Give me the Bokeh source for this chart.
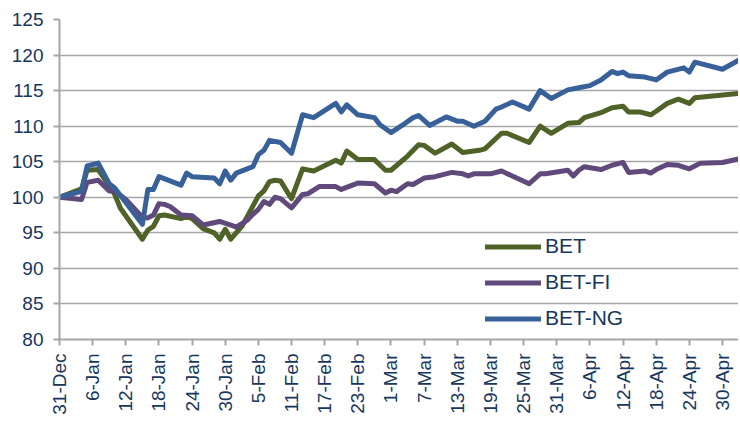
import math
import pandas as pd
from bokeh.plotting import figure
from bokeh.models import FixedTicker, Legend, LegendItem, Range1d
from bokeh.embed import file_html
from bokeh.resources import INLINE

START = pd.Timestamp("2014-12-31")

# Days counted from 31-Dec, and index values (31-Dec = 100)
bet_days = [0, 4, 5, 7, 9, 10, 11, 15, 16, 17, 18, 19, 22, 23, 24, 26, 28, 29, 30, 31,
            33, 34, 36, 37, 38, 39, 40, 42, 44, 46, 50, 51, 52, 54, 57, 59, 60, 63, 65, 66,
            68, 71, 73, 76, 77, 80, 81, 85, 87, 89, 92, 94, 95, 98, 100, 102, 103, 105, 107,
            108, 110, 112, 114, 115, 123]
bet_vals = [100, 101.2, 103.8, 103.9, 101.6, 100.4, 98.5, 94.1, 95.4, 95.9, 97.4, 97.5, 97.0,
            97.3, 97.0, 95.6, 95.0, 94.1, 95.5, 94.1, 95.9, 97.3, 100.2, 100.9, 102.2, 102.4,
            102.3, 99.8, 104.0, 103.7, 105.2, 104.8, 106.5, 105.3, 105.3, 103.8, 103.8, 105.8,
            107.4, 107.3, 106.2, 107.5, 106.3, 106.6, 106.8, 109.0, 109.0, 107.7, 110.0, 109.0,
            110.4, 110.5, 111.2, 111.9, 112.6, 112.8, 112.0, 112.0, 111.6, 112.1, 113.2, 113.8,
            113.2, 114.0, 114.6]

betfi_days = [0, 4, 5, 7, 9, 10, 12, 15, 16, 17, 18, 19, 20, 22, 24, 26, 29, 31, 32, 34,
              35, 36, 37, 38, 39, 40, 42, 44, 45, 47, 50, 51, 54, 57, 59, 60, 61, 63, 64, 66,
              68, 71, 73, 74, 75, 78, 80, 85, 87, 88, 92, 93, 94, 95, 98, 100, 102, 103, 106,
              107, 108, 110, 112, 114, 116, 120, 123]
betfi_vals = [100, 99.7, 102.1, 102.4, 100.9, 100.9, 99.7, 97.2, 97.1, 97.5, 99.1, 99.0, 98.7,
              97.5, 97.4, 96.1, 96.6, 96.1, 95.8, 96.8, 97.6, 98.3, 99.4, 99.0, 100.0, 99.8,
              98.5, 100.4, 100.5, 101.5, 101.5, 101.1, 102.0, 101.9, 100.6, 101.0, 100.8, 101.9,
              101.8, 102.7, 102.9, 103.5, 103.3, 103.0, 103.3, 103.3, 103.7, 101.9, 103.3, 103.3,
              103.8, 103.0, 103.8, 104.3, 103.9, 104.5, 104.9, 103.5, 103.7, 103.4, 103.9, 104.6,
              104.5, 104.0, 104.8, 104.9, 105.4]

betng_days = [0, 4, 5, 7, 9, 10, 15, 16, 17, 18, 20, 22, 23, 24, 28, 29, 30, 31, 32, 35,
              36, 37, 38, 40, 42, 44, 46, 50, 51, 52, 54, 57, 58, 60, 62, 64, 65, 67, 70, 72,
              73, 75, 77, 79, 80, 82, 85, 87, 89, 92, 94, 96, 98, 100, 101, 102, 103, 106, 108,
              110, 113, 114, 115, 120, 123]
betng_vals = [100, 100.85, 104.4, 104.8, 101.9, 101.3, 96.2, 101.1, 101.1, 102.9, 102.3, 101.7,
              103.4, 102.9, 102.7, 101.9, 103.7, 102.4, 103.4, 104.3, 106.0, 106.6, 108.0, 107.7,
              106.2, 111.6, 111.2, 113.2, 112.0, 113.0, 111.6, 111.2, 110.2, 109.1, 110.1, 111.2,
              111.5, 110.1, 111.3, 110.7, 110.7, 110.0, 110.7, 112.4, 112.7, 113.4, 112.4, 115.0,
              113.9, 115.1, 115.4, 115.7, 116.5, 117.7, 117.4, 117.6, 117.1, 116.9, 116.5, 117.6,
              118.2, 117.6, 119.0, 118.0, 119.3]

series_names = ["BET", "BET-FI", "BET-NG"]
series_colors = ["#4F6228", "#604A7B", "#376198"]

tick_labels = ["31-Dec", "6-Jan", "12-Jan", "18-Jan", "24-Jan", "30-Jan", "5-Feb", "11-Feb",
               "17-Feb", "23-Feb", "1-Mar", "7-Mar", "13-Mar", "19-Mar", "25-Mar", "31-Mar",
               "6-Apr", "12-Apr", "18-Apr", "24-Apr", "30-Apr"]
tick_step_days = 6
y_ticks = [80, 85, 90, 95, 100, 105, 110, 115, 120, 125]

TEXT = "#17375E"
GRID = "#A6A6A6"
FONT = "Liberation Sans"


def to_dates(days):
    return [START + pd.Timedelta(days=d) for d in days]


def ms(ts):
    return ts.value / 1e6


p = figure(width=738, height=422, x_axis_type="datetime",
           output_backend="svg", toolbar_location=None,
           x_range=Range1d(START, START + pd.Timedelta(days=122.9)),
           y_range=Range1d(80, 125),
           min_border_left=59, min_border_right=0, min_border_top=19,
           min_border_bottom=83)
p.outline_line_color = None
p.background_fill_color = "white"
p.border_fill_color = "white"

p.xgrid.grid_line_color = None
p.ygrid.grid_line_color = GRID
p.ygrid.grid_line_width = 1.6
p.yaxis.ticker = FixedTicker(ticks=y_ticks)

tick_dates = [START + pd.Timedelta(days=tick_step_days * i) for i in range(len(tick_labels))]
p.xaxis.ticker = FixedTicker(ticks=[ms(t) for t in tick_dates])
p.xaxis.major_label_overrides = {ms(t): lab for t, lab in zip(tick_dates, tick_labels)}
p.xaxis.major_label_orientation = math.pi / 2

for ax in (p.xaxis[0], p.yaxis[0]):
    ax.axis_line_color = GRID
    ax.axis_line_width = 2
    ax.major_tick_line_color = GRID
    ax.major_tick_line_width = 2
    ax.major_tick_out = 6
    ax.major_tick_in = 0
    ax.minor_tick_line_color = None
    ax.major_label_text_color = TEXT
    ax.major_label_text_font = FONT
    ax.major_label_text_font_size = "19px"
p.yaxis.major_label_standoff = 10
p.xaxis.major_label_standoff = 8

renderers = []
for days, vals, color in zip([bet_days, betfi_days, betng_days],
                             [bet_vals, betfi_vals, betng_vals], series_colors):
    r = p.line(to_dates(days), vals, line_width=5, line_color=color,
               line_join="round", line_cap="round")
    renderers.append(r)

legend = Legend(items=[LegendItem(label=n, renderers=[r]) for n, r in zip(series_names, renderers)],
                location=(426, 9), padding=0, margin=0, spacing=12,
                glyph_width=56, glyph_height=21, label_height=21, label_standoff=4,
                label_text_font=FONT, label_text_font_size="21px", label_text_color=TEXT,
                border_line_color=None, background_fill_alpha=0)
p.add_layout(legend)

open("out.html", "w").write(file_html(p, INLINE))
